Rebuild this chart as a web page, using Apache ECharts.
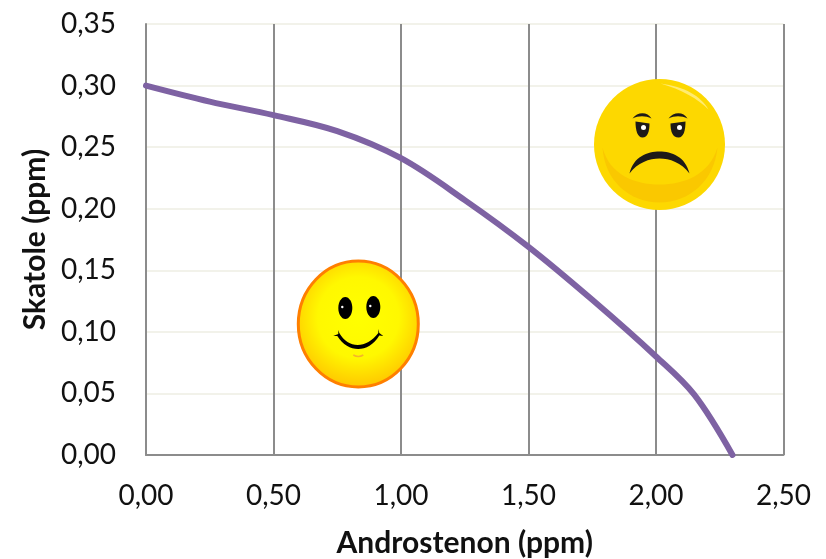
<!DOCTYPE html>
<html><head><meta charset="utf-8">
<style>html,body{margin:0;padding:0;background:#fff}#c{width:826px;height:559px}</style>
<script src="https://cdn.jsdelivr.net/npm/echarts@6/dist/echarts.min.js"></script></head>
<body><div id="c"></div>
<script>
const androstenon = [0,0.25,0.50,0.75,1.00,1.25,1.50,1.75,2.00,2.15,2.30];
const skatole = [0.300,0.287,0.276,0.263,0.241,0.207,0.169,0.126,0.080,0.049,0.000];
const FONT = 'Lato';
const fmt = v => v.toFixed(2).replace('.', ',');
const chart = echarts.init(document.getElementById('c'), null, {renderer:'canvas'});
const face1 = {x:358.3,y:324}, face2 = {x:659.5,y:144.5};
let pathCount = 0;
function P(d, style){
  const name = 'facePath' + (pathCount++);
  echarts.graphic.registerShape(name, echarts.graphic.extendPath(d, {}));
  return {type:name, style, z:10};
}
const DARK = '#1d1a18';
chart.setOption({
  animation:false,
  grid:{left:146,right:42.5,top:24,bottom:104,containLabel:false,outerBoundsMode:'none'},
  xAxis:{type:'value',min:0,max:2.5,interval:0.5,
    name:'Androstenon (ppm)',nameLocation:'middle',nameGap:73,
    nameTextStyle:{fontFamily:FONT,fontWeight:'bold',fontSize:30,color:'#111'},
    axisLine:{show:true,lineStyle:{color:'#8c8c8c',width:2}},axisTick:{show:false},
    axisLabel:{fontFamily:FONT,fontSize:28,color:'#111',margin:27,formatter:fmt,hideOverlap:false,showMinLabel:true,showMaxLabel:true},
    splitLine:{show:true,lineStyle:{color:'#8c8c8c',width:2}}},
  yAxis:{type:'value',min:0,max:0.35,interval:0.05,
    name:'Skatole (ppm)',nameLocation:'middle',nameGap:96,nameRotate:90,
    nameTextStyle:{fontFamily:FONT,fontWeight:'bold',fontSize:30,color:'#111'},
    axisLine:{show:true,lineStyle:{color:'#8c8c8c',width:2}},axisTick:{show:false},
    axisLabel:{fontFamily:FONT,fontSize:28,color:'#111',margin:30,formatter:fmt,showMinLabel:true,showMaxLabel:true},
    splitLine:{show:true,lineStyle:{color:'#f2f2ea',width:2}}},
  series:[{type:'line',data:androstenon.map((x,i)=>[x,skatole[i]]),smooth:0.35,showSymbol:false,
    lineStyle:{color:'#7e62a3',width:6,cap:'round'},z:3}],
  graphic:[
    {type:'group',x:face1.x,y:face1.y,z:10,children:[
      {type:'ellipse',z:10,shape:{cx:0,cy:0,rx:60,ry:63},style:{stroke:'#ff7f00',lineWidth:3,
        fill:{type:'radial',x:0.5,y:0.45,r:0.55,colorStops:[{offset:0,color:'#ffff00'},{offset:0.6,color:'#fff800'},{offset:1,color:'#ffca00'}]}}},
      {type:'ellipse',z:10,shape:{cx:-13,cy:-16,rx:7,ry:11},style:{fill:'#000'}},
      {type:'ellipse',z:10,shape:{cx:15,cy:-17,rx:7,ry:11},style:{fill:'#000'}},
      {type:'circle',z:11,shape:{cx:-16,cy:-17,r:1.2},style:{fill:'#fff'}},
      {type:'circle',z:11,shape:{cx:12,cy:-18,r:1.2},style:{fill:'#fff'}},
      P('M-25 12 L-20 10 L-20 6 L-19 9 C-10 25 8 25 20 9 L20 5 L21 9 L25 12 L21 11.5 C10 29.5 -10 29.5 -21 12 Z',{fill:'#000'}),
      P('M-5 31 Q0 34 5 31',{fill:'none',stroke:'#f5b52a',lineWidth:1.5})
    ]},
    {type:'group',x:face2.x,y:face2.y,z:10,children:[
      {type:'circle',z:10,shape:{cx:0,cy:0,r:65.5},style:{fill:'#fdd800'}},
      P('M-57 3 C-50 30 -25 40 0 40 C25 40 50 30 58 3 C55 36 30 58 0 58 C-30 58 -55 36 -57 3 Z',{fill:'#fac800'}),
      P('M1 -61 C25 -58 42 -48 49 -35 C38 -46 22 -55 1 -61 Z',{fill:'#ffeb70'}),
      P('M-24 -23 L-10 -21 C-10 -13 -12 -7 -17 -7 C-22 -7 -24 -14 -24 -23 Z',{fill:DARK}),
      P('M26 -23 L11 -21 C11 -13 13 -7 19 -7 C24 -7 26 -14 26 -23 Z',{fill:DARK}),
      {type:'circle',z:11,shape:{cx:-16,cy:-17,r:2.5},style:{fill:'#fff'}},
      {type:'circle',z:11,shape:{cx:20,cy:-17,r:2.5},style:{fill:'#fff'}},
      P('M-27 -26 C-22 -33 -12 -33 -8 -26 C-14 -29 -21 -29 -27 -26 Z',{fill:DARK}),
      P('M9 -26 C14 -33 24 -33 28 -26 C22 -29 15 -29 9 -26 Z',{fill:DARK}),
      P('M-30 29 C-26 12 -12 7 0 7 C12 7 26 12 30 29 C22 18 10 14 0 14 C-10 14 -22 18 -30 29 Z',{fill:DARK})
    ]}
  ]
});
</script></body></html>
